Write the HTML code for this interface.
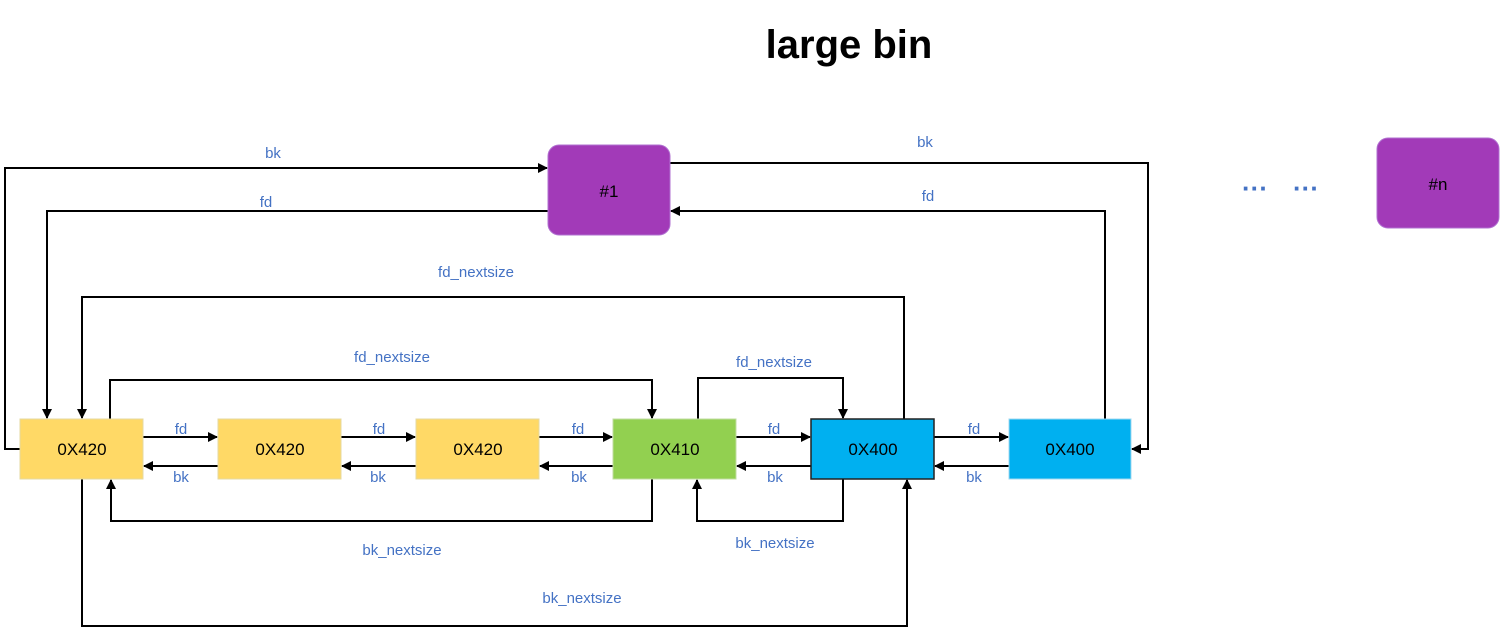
<!DOCTYPE html>
<html><head><style>
body{margin:0;background:#fff;}
svg{display:block;font-family:"Liberation Sans",sans-serif;}
.l{fill:#4472c4;font-size:15px;text-anchor:middle;}
.b{font-size:17px;text-anchor:middle;fill:#000;}
</style></head><body>
<svg width="1502" height="628" viewBox="0 0 1502 628">
<defs><marker id="a" markerWidth="10" markerHeight="10" refX="9" refY="5" orient="auto" markerUnits="userSpaceOnUse"><path d="M0,0 L10,5 L0,10 z" fill="#000"/></marker></defs>
<text x="849" y="58" font-size="40" font-weight="bold" text-anchor="middle">large bin</text>
<g fill="none" stroke="#000" stroke-width="2" marker-end="url(#a)">
<path d="M20,449 H5 V168 H547"/>
<path d="M548,211 H47 V418"/>
<path d="M670,163 H1148 V449 H1132"/>
<path d="M1105,419 V211 H671"/>
<path d="M904,419 V297 H82 V418"/>
<path d="M110,419 V380 H652 V418"/>
<path d="M698,419 V378 H843 V418"/>
<path d="M652,479 V521 H111 V480"/>
<path d="M843,479 V521 H697 V480"/>
<path d="M82,479 V626 H907 V480"/>
<path d="M143,437 H217"/><path d="M218,466 H144"/>
<path d="M341,437 H415"/><path d="M416,466 H342"/>
<path d="M539,437 H612"/><path d="M613,466 H540"/>
<path d="M736,437 H810"/><path d="M811,466 H737"/>
<path d="M934,437 H1008"/><path d="M1009,466 H935"/>
</g>
<rect x="20" y="419" width="123" height="60" fill="#ffd966" stroke="#e5d9a0"/>
<rect x="218" y="419" width="123" height="60" fill="#ffd966" stroke="#e5d9a0"/>
<rect x="416" y="419" width="123" height="60" fill="#ffd966" stroke="#e5d9a0"/>
<rect x="613" y="419" width="123" height="60" fill="#92d050" stroke="#c0dca0"/>
<rect x="811" y="419" width="123" height="60" fill="#00b0f0" stroke="#222" stroke-width="1.5"/>
<rect x="1009" y="419" width="122" height="60" fill="#00b0f0" stroke="#a0d8f0"/>
<rect x="548" y="145" width="122" height="90" rx="11" fill="#a23ab8" stroke="#b070d0"/>
<rect x="1377" y="138" width="122" height="90" rx="11" fill="#a23ab8" stroke="#b070d0"/>
<text class="b" x="609" y="197" font-size="19">#1</text>
<text class="b" x="1438" y="190" font-size="19">#n</text>
<text class="b" x="82" y="455">0X420</text>
<text class="b" x="280" y="455">0X420</text>
<text class="b" x="478" y="455">0X420</text>
<text class="b" x="675" y="455">0X410</text>
<text class="b" x="873" y="455">0X400</text>
<text class="b" x="1070" y="455">0X400</text>
<text x="1255" y="197" fill="#4472c4" font-size="26" font-weight="bold" text-anchor="middle">···</text>
<text x="1306" y="197" fill="#4472c4" font-size="26" font-weight="bold" text-anchor="middle">···</text>
<text class="l" x="273" y="158">bk</text>
<text class="l" x="266" y="207">fd</text>
<text class="l" x="925" y="147">bk</text>
<text class="l" x="928" y="201">fd</text>
<text class="l" x="476" y="277">fd_nextsize</text>
<text class="l" x="392" y="362">fd_nextsize</text>
<text class="l" x="774" y="367">fd_nextsize</text>
<text class="l" x="402" y="555">bk_nextsize</text>
<text class="l" x="775" y="548">bk_nextsize</text>
<text class="l" x="582" y="603">bk_nextsize</text>
<text class="l" x="181" y="434">fd</text><text class="l" x="181" y="482">bk</text>
<text class="l" x="379" y="434">fd</text><text class="l" x="378" y="482">bk</text>
<text class="l" x="578" y="434">fd</text><text class="l" x="579" y="482">bk</text>
<text class="l" x="774" y="434">fd</text><text class="l" x="775" y="482">bk</text>
<text class="l" x="974" y="434">fd</text><text class="l" x="974" y="482">bk</text>
</svg>
</body></html>
